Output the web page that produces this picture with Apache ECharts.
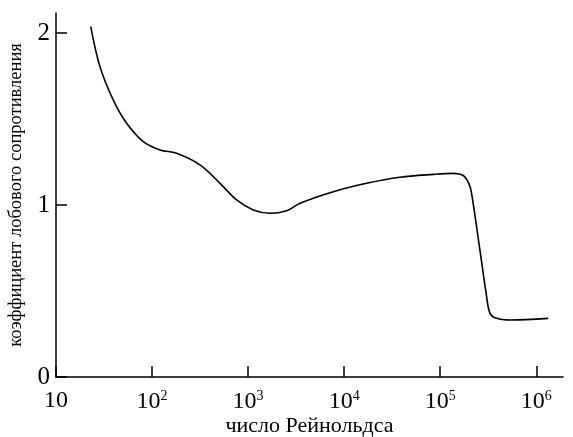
<!DOCTYPE html>
<html>
<head>
<meta charset="utf-8">
<script src="https://cdn.jsdelivr.net/npm/echarts@6/dist/echarts.min.js"></script>
<style>html,body{margin:0;padding:0;background:#fff}#c{width:573px;height:437px}</style>
</head>
<body>
<div id="c"></div>
<script>
// Reynolds number (x) and drag coefficient (y)
const reynolds = [23, 28.7, 39.5, 54.4, 81, 121, 180, 315, 510, 760, 1130, 1690, 2520, 3470, 7700, 17100, 38100, 84800, 137000, 175000, 200000, 212000, 259000, 300000, 330000, 386000, 532000, 1330000];
const dragCoef = [2.037, 1.804, 1.61, 1.475, 1.368, 1.320, 1.30, 1.233, 1.126, 1.029, 0.971, 0.952, 0.967, 1.01, 1.077, 1.126, 1.161, 1.178, 1.184, 1.17, 1.12, 1.068, 0.738, 0.49, 0.37, 0.341, 0.331, 0.341];
const xTicks = [10, 100, 1000, 10000, 100000, 1000000];
const yTicks = [0, 1, 2];
const xTitle = 'число Рейнольдса';
const yTitle = 'коэффициент лобового сопротивления';

const chart = echarts.init(document.getElementById('c'), null, {renderer: 'canvas'});
const font = 'Liberation Serif';
const black = '#000';
chart.setOption({
  animation: false,
  backgroundColor: '#fff',
  grid: [
    {left: 56, right: 10, top: 13, bottom: 60, containLabel: false, outerBoundsMode: 'none'},      // data + axis lines
    {left: 56, right: 36.7, top: 33, bottom: 60, containLabel: false, outerBoundsMode: 'none'}     // tick marks & labels
  ],
  xAxis: [{
    gridIndex: 0, type: 'log', logBase: 10, min: 10, max: 1897000,
    name: xTitle, nameLocation: 'middle', nameGap: 38,
    nameTextStyle: {fontFamily: font, fontSize: 22, color: black},
    axisLine: {lineStyle: {color: black, width: 1.5}},
    axisTick: {show: false}, axisLabel: {show: false},
    splitLine: {show: false}, minorTick: {show: false}
  }, {
    gridIndex: 1, type: 'log', logBase: 10, min: xTicks[0], max: xTicks[xTicks.length - 1], interval: 1,
    axisLine: {show: false, onZero: false},
    axisTick: {show: true, inside: true, length: 11, lineStyle: {color: black, width: 1.5}},
    axisLabel: {
      margin: 12, color: black, fontFamily: font, fontSize: 24,
      formatter: v => { const e = Math.round(Math.log10(v)); return e === 1 ? '10' : '10{sup|' + e + '}'; },
      rich: {sup: {fontFamily: font, fontSize: 14, color: black, verticalAlign: 'top', padding: [0, 0, 12, 0]}}
    },
    splitLine: {show: false}, minorTick: {show: false}
  }],
  yAxis: [{
    gridIndex: 0, type: 'value', min: 0, max: 2.116,
    name: yTitle, nameLocation: 'middle', nameGap: 30, nameRotate: 90,
    nameTextStyle: {fontFamily: font, fontSize: 18.5, color: black},
    axisLine: {show: true, lineStyle: {color: black, width: 1.5}},
    axisTick: {show: false}, axisLabel: {show: false},
    splitLine: {show: false}
  }, {
    gridIndex: 1, type: 'value', min: yTicks[0], max: yTicks[yTicks.length - 1], interval: 1,
    axisLine: {show: false, onZero: false},
    axisTick: {show: true, inside: true, length: 11, lineStyle: {color: black, width: 1.5}},
    axisLabel: {margin: 6, color: black, fontFamily: font, fontSize: 25},
    splitLine: {show: false}
  }],
  series: [{
    type: 'line', xAxisIndex: 0, yAxisIndex: 0,
    data: reynolds.map((r, i) => [r, dragCoef[i]]),
    smooth: 0.35,
    showSymbol: false,
    lineStyle: {color: black, width: 1.6}
  }]
});
</script>
</body>
</html>
